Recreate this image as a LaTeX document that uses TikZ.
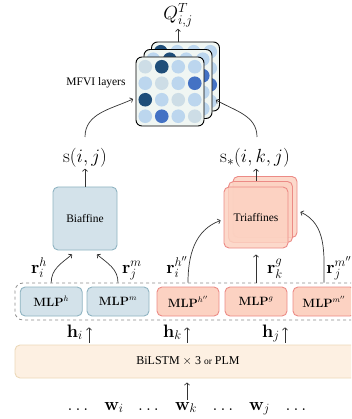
\RequirePackage{fix-cm}
\documentclass[tikz,border=0pt]{standalone}
\usepackage{amsmath}
\usepackage[no-math]{fontspec}
\setmainfont{Liberation Serif}
\usetikzlibrary{arrows.meta}
\definecolor{cc0}{HTML}{CDDDE6}
\definecolor{cc1}{HTML}{BCD6EE}
\definecolor{cc2}{HTML}{1F4E79}
\definecolor{cc3}{HTML}{4472C4}
\definecolor{pfill}{HTML}{F0F6F3}
\definecolor{bfill}{HTML}{D3E2EA}
\definecolor{bdraw}{HTML}{8FB4C2}
\definecolor{sfill}{HTML}{FCD2C2}
\definecolor{sdraw}{HTML}{EC8B86}
\definecolor{lfill}{HTML}{FDF0E2}
\definecolor{ldraw}{HTML}{ECD8B8}
\definecolor{lncol}{HTML}{333333}
\newcommand\qsz{\fontsize{19}{21}\selectfont}
\newcommand\msz{\fontsize{18}{20}\selectfont}
\newcommand\tsz{\fontsize{11.5}{13}\selectfont}
\newcommand\mfvipanel[4]{%
  \node[panel] (#1) at (#2,#3) {};
  \foreach \c [count=\k from 0] in {#4} {
    \pgfmathtruncatemacro\row{div(\k,4)}
    \pgfmathtruncatemacro\col{mod(\k,4)}
    \fill[cc\c] ({#2-24.75+16.5*\col},{#3-24.75+16.5*\row}) circle (6.8);
  }}
\begin{document}
\begin{tikzpicture}[x=1pt,y=-1pt,
  panel/.style={rectangle,rounded corners=6pt,draw=black,line width=0.9pt,fill=pfill,minimum width=68pt,minimum height=69pt,inner sep=0pt},
  bluebox/.style={rectangle,rounded corners=5pt,draw=bdraw,line width=0.9pt,fill=bfill,inner sep=0pt},
  salbox/.style={rectangle,rounded corners=5pt,draw=sdraw,line width=0.9pt,fill=sfill,inner sep=0pt},
  trilayer/.style={salbox,minimum width=64pt,minimum height=61pt,fill opacity=0.85},
  mlpbox/.style={minimum width=62pt,minimum height=29pt,font=\fontsize{12}{14}\selectfont},
  arr/.style={draw=lncol,line width=0.7pt,-{To[length=3pt,width=5.5pt]}},
  lab/.style={inner sep=1pt,font=\msz}]
\useasboundingbox (0,0) rectangle (351,419);
\clip (0,0) rectangle (351,419);

% MFVI stack
\mfvipanel{p3}{185.5}{76.5}{2,1,1,1, 1,1,0,1, 1,0,1,3, 1,1,1,1}
\mfvipanel{p2}{178}{84}{1,2,1,1, 0,1,1,3, 1,0,1,1, 1,1,3,1}
\mfvipanel{p1}{170}{91.5}{0,2,1,1, 1,0,1,3, 2,1,0,1, 1,3,1,0}
\node[font=\qsz,inner sep=2pt] (q) at (178,15) {$Q^T_{i,j}$};
\draw[arr] (q.south |- p3.north) -- (q.south);
\node[font=\tsz] (mfvi) at (96,83) {MFVI layers};

% score labels
\node[font=\qsz,inner sep=1pt] (s1) at (85,158) {$\mathrm{s}(i,j)$};
\node[font=\qsz,inner sep=1pt] (s2) at (255,158) {$\mathrm{s}_*(i,k,j)$};
\coordinate (s1t) at (85,137);
\coordinate (s2t) at (257,137);
\coordinate (p1in) at (133,99);
\coordinate (p3in) at (216,100);
\draw[arr] (s1t) to[out=90,in=205] (p1in);
\draw[arr] (s2t) to[out=90,in=-30] (p3in);

% Biaffine
\node[bluebox,minimum width=64pt,minimum height=63pt,font=\tsz] (bia) at (85,218.5) {Biaffine};
\draw[arr] (bia.north) -- (s1.south);

% Triaffines
\node[trilayer] (tri3) at (265,207) {};
\node[trilayer] (tri2) at (260.5,212) {};
\node[trilayer,text opacity=1,font=\tsz] (tri1) at (256,217.5) {Triaffines};
\draw[arr] (tri1.north |- tri2.north) -- (tri1.north |- s2.south);

% MLP layer
\node[rectangle,rounded corners=8pt,draw=black!45,dashed,line width=0.8pt,minimum width=346pt,minimum height=37pt] (mlps) at (188,301.5) {};
\node[bluebox,mlpbox] (mlph) at (51.2,301.5) {$\mathbf{MLP}^{h}$};
\node[bluebox,mlpbox] (mlpm) at (118,301.5) {$\mathbf{MLP}^{m}$};
\node[salbox,mlpbox] (mlph2) at (188,301.5) {$\mathbf{MLP}^{h''}$};
\node[salbox,mlpbox] (mlpg) at (256,301.5) {$\mathbf{MLP}^{g}$};
\node[salbox,mlpbox] (mlpm2) at (324,301.5) {$\mathbf{MLP}^{m''}$};

% r arrows
\draw[arr] (mlph.center |- mlps.north) to[out=90,in=220] ([xshift=-13pt,yshift=-4pt]bia.south);
\draw[arr] (mlpm.center |- mlps.north) to[out=90,in=-40] ([xshift=12pt,yshift=-4pt]bia.south);
\draw[arr] (mlph2.center |- mlps.north) to[out=90,in=200] ([xshift=-3pt,yshift=-3pt]tri1.west);
\draw[arr] (mlpm2.center |- mlps.north) to[out=90,in=-25] ([xshift=3pt,yshift=-5pt]tri3.east);
\draw[arr,shorten >=6pt] (mlpg.center |- mlps.north) -- (mlpg.center |- tri1.south);

\node[lab,anchor=base] (rih) at (39,273) {$\mathbf{r}_i^{h}$};
\node[lab,anchor=base] (rjm) at (132,273) {$\mathbf{r}_j^{m}$};
\node[lab,anchor=base] (rih2) at (177,273) {$\mathbf{r}_i^{h''}$};
\node[lab,anchor=base] (rkg) at (275,273) {$\mathbf{r}_k^{g}$};
\node[lab,anchor=base] (rjm2) at (339,273) {$\mathbf{r}_j^{m''}$};

% BiLSTM
\node[rectangle,rounded corners=5pt,draw=ldraw,line width=0.9pt,fill=lfill,minimum width=346pt,minimum height=33pt,font=\fontsize{12}{14}\selectfont] (bil) at (188,361.5) {BiLSTM $\times$ 3 {\fontsize{9.5}{11}\selectfont or} PLM};

\node[lab,anchor=base east] (hi) at (84,337) {$\mathbf{h}_i$};
\node[lab,anchor=base east] (hk) at (183,337) {$\mathbf{h}_k$};
\node[lab,anchor=base east] (hj) at (281,337) {$\mathbf{h}_j$};
\coordinate (hix) at (89,0);
\coordinate (hkx) at (187,0);
\coordinate (hjx) at (285,0);
\draw[arr,shorten <=2pt,shorten >=7pt] (bil.north -| hix) -- (mlps.south -| hix);
\draw[arr,shorten <=2pt,shorten >=7pt] (bil.north -| hkx) -- (mlps.south -| hkx);
\draw[arr,shorten <=2pt,shorten >=7pt] (bil.north -| hjx) -- (mlps.south -| hjx);

% words
\node[lab,anchor=base] (d1) at (78,410) {$\ldots$};
\node[lab,anchor=base] (wi) at (114,410) {$\mathbf{w}_i$};
\node[lab,anchor=base] (d2) at (148.5,410) {$\ldots$};
\node[lab,anchor=base] (wk) at (186,410) {$\mathbf{w}_k$};
\node[lab,anchor=base] (d3) at (223,410) {$\ldots$};
\node[lab,anchor=base] (wj) at (259.5,410) {$\mathbf{w}_j$};
\node[lab,anchor=base] (d4) at (296,410) {$\ldots$};
\draw[arr,shorten >=4pt,shorten <=1pt] (wk.north -| hkx) -- (bil.south -| hkx);
\end{tikzpicture}
\end{document}
